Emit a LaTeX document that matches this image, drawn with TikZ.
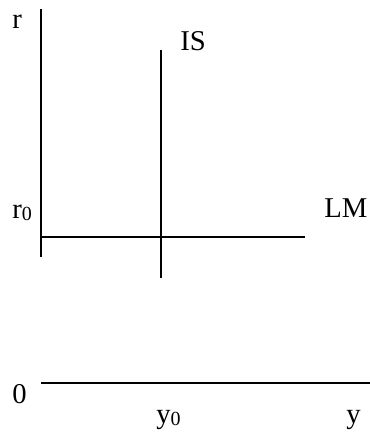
\documentclass[tikz,border=0pt]{standalone}
\usepackage{fontspec}
\setmainfont{Liberation Serif}
\begin{document}
\begin{tikzpicture}[x=0.75pt,y=-0.75pt,
  axis/.style={line width=1.5pt},
  lbl/.style={inner sep=0pt,anchor=base west,font=\fontsize{21.5}{25}\selectfont}]
\useasboundingbox (0,0) rectangle (370,433);
\newcommand{\subz}{\raisebox{-1.5pt}{\fontsize{15}{17}\selectfont 0}}
% coordinates
\coordinate (vtop) at (41,9);
\coordinate (vbot) at (41,257);
\coordinate (istop) at (161,50);
\coordinate (isbot) at (161,278);
\coordinate (lml) at (41,237);
\coordinate (lmr) at (305,237);
\coordinate (hl) at (41,383);
\coordinate (hr) at (370,383);
\draw[axis] (vtop) -- (vbot);
\draw[axis] (istop) -- (isbot);
\draw[axis] (lml) -- (lmr);
\draw[axis] (hl) -- (hr);
% labels
\node[lbl] (r) at (12,28) {r};
\node[lbl] (IS) at (180,50) {IS};
\node[lbl] (r0) at (12,218) {r\subz};
\node[lbl] (LM) at (324,217) {LM};
\node[lbl] (zero) at (12,403) {0};
\node[lbl] (y0) at (156,423) {y\subz};
\node[lbl] (y) at (346,423) {y};
\end{tikzpicture}
\end{document}
